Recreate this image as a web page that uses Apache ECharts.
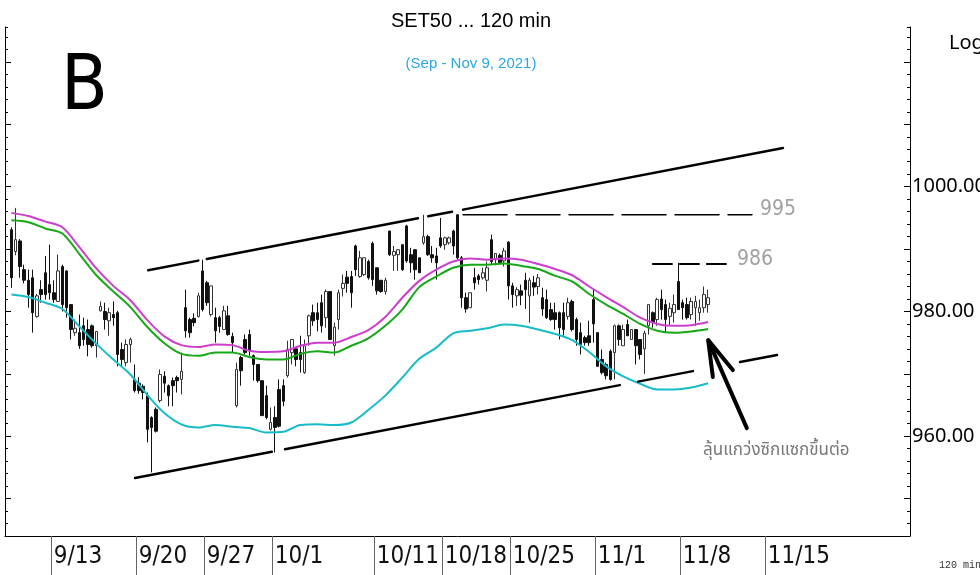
<!DOCTYPE html>
<html>
<head>
<meta charset="utf-8">
<title>SET50 ... 120 min</title>
<script src="https://cdn.jsdelivr.net/npm/echarts@6/dist/echarts.min.js"></script>
<style>
  html, body { margin: 0; padding: 0; background: #fff; }
  #main { width: 980px; height: 575px; }
</style>
</head>
<body>
<div id="main"></div>
<script>
// trading days on the time axis, each 120 min bar takes one slot
const tradingDays = ['', '9/8', '9/9', '9/10', '9/13', '9/14', '9/15', '9/16', '9/17', '9/20', '9/21', '9/22', '9/23',
  '9/27', '9/28', '9/29', '9/30', '10/1', '10/4', '10/5', '10/6', '10/7', '10/8', '10/11', '10/12', '10/14', '10/15',
  '10/18', '10/19', '10/20', '10/21', '10/25', '10/26', '10/27', '10/28', '10/29', '11/1', '11/2', '11/3', '11/4', '11/5',
  '11/8', '11/9', '11/10', '11/11', '11/12', '11/15', '11/16', '11/17', '11/18', '11/19', '11/22', '11/23', '11/24', '11/25']
const barsPerDay = [1, 2, 4, 4, 4, 4, 4, 4, 4, 4, 4, 4, 4,
  4, 4, 4, 4, 4, 4, 4, 4, 4, 4, 4, 4, 4, 4,
  4, 4, 4, 4, 4, 4, 4, 4, 4, 4, 4, 4, 4, 4,
  4, 4, 4, 4, 4, 4, 4, 4, 4, 4, 4, 4, 4, 4]
const weekLabels = ['9/13', '9/20', '9/27', '10/1', '10/11', '10/18', '10/25', '11/1', '11/8', '11/15']
const slotCount = 213

// 120 min bars from slot 1 (9/8) to slot 165 (11/9)
const opens = [
  993.1, 989.6, 991.3, 986.7, 985.0, 985.4, 979.2, 983.5, 986.2, 984.3,
  983.0, 981.6, 987.2, 986.5, 981.1, 976.6, 976.6, 977.7, 977.1, 977.7,
  974.5, 980.1, 980.0, 978.5, 979.5, 979.8, 973.9, 971.8, 974.7, 969.1,
  968.5, 968.0, 966.5, 963.0, 964.3, 965.7, 969.6, 968.1, 968.9, 969.4,
  969.1, 980.6, 978.7, 978.9, 979.2, 986.5, 984.6, 979.5, 979.0, 979.0,
  977.1, 979.3, 976.0, 964.9, 972.6, 975.5, 976.3, 972.9, 971.5, 968.9,
  966.5, 961.1, 963.0, 967.5, 968.1, 969.7, 973.4, 974.0, 973.4, 970.2,
  976.1, 979.8, 979.8, 981.4, 979.0, 983.2, 974.5, 978.7, 983.7, 985.5,
  985.6, 990.5, 985.6, 985.9, 988.0, 990.9, 987.0, 985.0, 983.2, 992.9,
  989.0, 989.1, 990.7, 993.7, 989.1, 989.9, 988.6, 991.0, 992.0, 989.1,
  988.9, 991.8, 990.7, 991.0, 992.9, 995.5, 988.6, 982.2, 980.6, 985.4,
  985.7, 985.4, 985.0, 991.5, 988.3, 989.0, 988.1, 991.1, 984.1, 982.5,
  983.3, 985.0, 982.5, 984.6, 984.0, 982.2, 981.9, 980.3, 979.8, 979.8,
  979.8, 979.2, 981.6, 978.7, 976.6, 975.8, 976.1, 981.9, 976.6, 972.3,
  971.5, 973.6, 973.4, 977.7, 974.5, 977.9, 975.5, 977.1, 975.5, 974.0,
  977.7, 979.8, 978.7, 982.0, 981.1, 979.2, 979.8, 984.8, 981.4, 981.1,
  979.5, 980.6, 979.8, 980.6, 981.1]
const closes = [
  985.4, 991.5, 987.2, 985.0, 982.7, 979.8, 982.5, 982.7, 982.7, 983.0,
  981.9, 986.5, 981.1, 980.6, 977.1, 977.3, 974.5, 975.5, 974.7, 974.5,
  976.8, 980.8, 978.7, 979.8, 979.0, 973.1, 972.3, 974.7, 975.5, 967.3,
  967.3, 967.0, 961.1, 961.4, 960.8, 969.9, 968.5, 966.5, 968.1, 968.9,
  970.4, 976.9, 976.6, 978.2, 982.5, 980.3, 981.4, 984.1, 976.9, 977.6,
  980.1, 976.3, 975.0, 970.7, 970.5, 973.4, 973.7, 971.5, 968.9, 963.3,
  963.0, 962.2, 961.4, 961.6, 965.6, 973.9, 975.5, 972.3, 972.3, 974.5,
  979.3, 978.5, 978.7, 977.7, 983.2, 975.5, 977.5, 983.0, 984.5, 984.5,
  983.0, 986.7, 988.6, 988.6, 985.4, 985.1, 983.3, 983.2, 985.0, 989.1,
  989.6, 989.9, 986.7, 988.1, 987.8, 986.7, 986.2, 992.0, 989.1, 988.6,
  987.8, 990.5, 991.8, 991.8, 990.5, 988.6, 982.2, 980.4, 983.0, 984.6,
  985.1, 986.2, 987.0, 988.0, 989.3, 987.8, 989.7, 984.1, 982.7, 983.5,
  982.6, 983.5, 985.0, 983.9, 985.4, 980.4, 979.0, 978.7, 978.7, 977.4,
  977.1, 981.4, 977.1, 975.5, 974.7, 975.0, 975.0, 978.0, 971.2, 970.2,
  969.7, 969.1, 977.7, 975.5, 977.1, 976.1, 977.1, 974.5, 973.1, 976.5,
  981.1, 978.2, 981.9, 980.3, 978.7, 980.5, 981.1, 980.3, 980.6, 979.0,
  981.6, 981.6, 980.6, 982.7, 982.2]
const lows = [
  983.8, 989.0, 985.4, 984.5, 980.6, 976.6, 979.0, 981.4, 981.9, 981.9,
  981.4, 981.6, 980.0, 979.0, 975.5, 976.1, 974.0, 974.5, 972.8, 974.2,
  972.6, 980.0, 977.1, 976.1, 977.7, 971.2, 971.2, 971.2, 971.8, 967.0,
  966.8, 965.9, 959.0, 954.2, 960.6, 965.4, 967.0, 964.8, 964.8, 967.0,
  966.7, 975.8, 975.8, 977.6, 979.0, 980.0, 980.9, 979.2, 975.0, 976.6,
  977.1, 976.1, 973.4, 964.6, 968.1, 973.1, 972.9, 968.9, 968.6, 963.3,
  962.7, 960.9, 957.4, 961.4, 964.8, 969.4, 971.5, 971.2, 970.2, 970.0,
  974.5, 977.7, 976.8, 976.6, 977.4, 975.5, 972.9, 977.1, 982.4, 983.0,
  980.6, 985.7, 985.4, 985.7, 985.1, 984.1, 982.7, 983.0, 982.7, 988.9,
  986.5, 986.5, 986.5, 987.8, 986.2, 985.1, 986.2, 990.7, 988.9, 987.8,
  985.1, 990.2, 989.9, 990.7, 989.1, 988.3, 980.6, 979.8, 980.6, 983.5,
  984.3, 985.1, 983.2, 987.5, 987.4, 987.8, 987.2, 981.9, 980.6, 980.9,
  981.0, 980.4, 978.2, 982.5, 982.7, 979.3, 978.8, 978.5, 977.1, 975.5,
  976.1, 978.7, 976.8, 974.5, 973.1, 974.5, 974.5, 975.0, 971.2, 969.9,
  969.1, 968.9, 969.1, 974.5, 974.5, 976.1, 975.5, 971.5, 972.3, 970.0,
  976.3, 977.4, 977.7, 978.7, 976.6, 977.7, 978.2, 980.3, 978.7, 978.7,
  978.7, 977.7, 978.5, 979.8, 979.8]
const highs = [
  993.5, 996.6, 991.6, 987.5, 986.7, 986.7, 982.8, 985.0, 988.9, 990.7,
  985.0, 989.1, 987.5, 986.6, 981.1, 978.7, 979.5, 979.0, 978.7, 977.9,
  976.8, 981.6, 981.4, 980.6, 981.6, 980.1, 975.0, 975.5, 975.8, 971.5,
  969.5, 968.3, 967.0, 963.2, 964.6, 970.7, 970.4, 968.3, 969.4, 969.7,
  973.4, 983.5, 979.0, 979.7, 983.0, 988.3, 984.9, 984.1, 980.6, 979.3,
  980.9, 980.9, 976.6, 971.8, 972.9, 976.3, 977.1, 973.1, 971.5, 968.9,
  968.1, 964.6, 964.8, 969.1, 969.1, 975.3, 975.5, 974.3, 976.1, 975.5,
  979.5, 981.1, 981.4, 982.7, 983.5, 983.2, 978.2, 983.5, 985.9, 986.5,
  986.5, 990.7, 989.7, 988.6, 988.3, 991.2, 987.0, 985.0, 985.4, 992.9,
  990.5, 990.0, 990.7, 993.9, 990.2, 989.9, 988.6, 995.5, 992.3, 990.5,
  990.2, 995.0, 992.0, 992.0, 993.1, 995.5, 988.9, 983.0, 983.0, 987.0,
  986.0, 987.0, 988.0, 992.3, 989.3, 989.3, 990.2, 991.3, 984.6, 983.9,
  984.3, 986.2, 985.4, 985.7, 986.0, 983.8, 983.5, 981.4, 981.4, 980.0,
  981.4, 982.2, 981.9, 979.0, 978.2, 976.1, 978.5, 983.5, 976.6, 973.9,
  971.8, 973.9, 977.9, 977.9, 977.9, 978.7, 977.1, 977.1, 975.5, 976.9,
  981.1, 980.0, 982.2, 983.5, 981.9, 981.4, 982.7, 987.8, 981.9, 982.2,
  982.2, 982.5, 981.9, 984.0, 983.5]

// the three average lines, read once a day (slot index)
const avgSlots = [1, 5, 9, 13, 17, 21, 25, 29, 33, 37, 41, 45, 49, 53, 57, 61, 65, 69, 73, 77, 81,
  85, 89, 93, 97, 101, 105, 109, 113, 117, 121, 125, 129, 133, 137, 141, 145, 149, 153, 157, 161, 165]
const avgPurple = [995.8, 995.3, 994.4, 993.5, 990.3, 986.9, 984.1, 981.8, 978.6, 976.0, 974.6, 974.3, 974.7, 974.6,
  973.7, 973.5, 973.6, 974.5, 975.0, 975.0, 975.9, 977.0, 979.1, 982.2, 984.9, 986.7, 988.0, 988.5,
  988.3, 988.5, 988.3, 987.6, 986.8, 985.8, 984.0, 982.3, 980.7, 979.0, 978.0, 977.7, 977.8, 978.3]
const avgGreen = [994.6, 994.3, 993.3, 992.5, 989.2, 985.8, 983.2, 980.7, 977.5, 974.9, 973.2, 972.9, 973.4, 973.4,
  972.7, 972.3, 972.3, 973.2, 973.6, 973.4, 974.5, 975.7, 977.7, 980.3, 983.9, 985.6, 987.0, 987.5,
  987.5, 987.7, 987.3, 986.8, 985.7, 984.8, 982.8, 981.1, 979.6, 978.0, 976.9, 976.6, 976.8, 977.2]
const avgCyan = [982.7, 982.3, 981.4, 980.4, 977.6, 974.8, 972.3, 969.9, 966.6, 963.7, 961.9, 961.4, 961.8, 961.5,
  961.3, 960.6, 960.7, 961.8, 961.9, 961.8, 962.2, 964.2, 966.5, 969.4, 972.4, 974.2, 976.5, 976.9,
  977.3, 977.9, 977.7, 977.1, 976.4, 975.4, 973.5, 971.2, 969.6, 968.4, 967.5, 967.5, 967.8, 968.5]

// hand drawn channel, pieces of [slot, value]
const channelTop = [
  [[33.2, 986.6], [45.0, 988.15]],
  [[47.0, 988.41], [96.7, 994.93]],
  [[99.1, 995.25], [104.7, 995.98]],
  [[107.3, 996.32], [182.6, 1006.2]]
]
const channelBottom = [
  [[30.1, 953.3], [62.3, 957.5]],
  [[65.4, 957.9], [144.2, 968.19]],
  [[148.5, 968.75], [161.4, 970.43]],
  [[172.5, 971.88], [181.2, 973.02]]
]
const resist995 = [[107.3, 995.5], [175.3, 995.5]]
const resist986 = [[152.0, 987.6], [169.4, 987.6]]
const arrowShaft = [[174.1, 961.3], [165.0, 975.4]]
const arrowHead = [[166.1, 969.5], [165.0, 975.4], [170.8, 970.6]]
const notes = [
  { name: '995', value: [177.2, 996.3] },
  { name: '986', value: [171.8, 988.25] },
  { name: 'ลุ้นแกว่งซิกแซกขึ้นต่อ', value: [163.8, 957.5] }
]

const yMajorTicks = [950, 960, 970, 980, 990, 1000, 1010, 1020]
const yLabels = [960, 980, 1000]

// build the slots
const categories = []
tradingDays.forEach((d, k) => {
  for (let b = 0; b < barsPerDay[k]; b++) categories.push(d)
})
categories.length = slotCount

const labelSlots = new Set(weekLabels.map(d => categories.indexOf(d)))
const showWeek = (i) => labelSlots.has(i)
// week separators sit on the left edge of the first bar of the week
const weekEdges = [...labelSlots].map(i => i - 0.5)

const candleData = ['-'].concat(opens.map((o, k) => [o, closes[k], lows[k], highs[k]]))

const narrowFont = "'Liberation Sans Narrow', 'Arial Narrow', 'DejaVu Sans Condensed', sans-serif"
const yMin = 944
const yMax = 1025.6

const avgLine = (values, color) => ({
  type: 'line',
  xAxisIndex: 1,
  data: avgSlots.map((s, k) => [s, values[k]]),
  symbol: 'none',
  smooth: 0.3,
  silent: true,
  z: 3,
  lineStyle: { color: color, width: 2 }
})

const drawn = (points, width, type) => ({
  type: 'line',
  xAxisIndex: 1,
  data: points,
  symbol: 'none',
  silent: true,
  z: 4,
  lineStyle: { color: '#000', width: width, type: type || 'solid', cap: 'round' }
})

const yAxisBase = (position, major) => ({
  type: 'value',
  position: position,
  min: yMin,
  max: yMax,
  interval: major ? undefined : 2,
  axisLine: { show: major, onZero: false, lineStyle: { color: '#000' } },
  axisTick: major
    ? { show: true, inside: true, length: 6, customValues: yMajorTicks, lineStyle: { color: '#000' } }
    : { show: true, inside: true, length: 3, lineStyle: { color: '#000' } },
  axisLabel: { show: false },
  splitLine: { show: false }
})

const rightAxis = yAxisBase('right', true)
rightAxis.axisLabel = {
  show: true,
  customValues: yLabels,
  formatter: v => v.toFixed(2),
  margin: 2,
  fontSize: 20,
  color: '#000',
  fontFamily: "'Noto Sans', 'Open Sans', sans-serif"
}

const myChart = echarts.init(document.getElementById('main'))

const option = {
  animation: false,
  backgroundColor: '#fff',
  textStyle: { fontFamily: "'Liberation Sans', Arial, sans-serif" },
  title: [
    {
      text: 'SET50 ... 120 min',
      left: 466,
      top: 6,
      textAlign: 'center',
      textStyle: { fontSize: 20, fontWeight: 'normal', color: '#000', fontFamily: "'Liberation Sans', Arial, sans-serif" }
    },
    {
      text: '(Sep - Nov 9, 2021)',
      left: 466,
      top: 51,
      textAlign: 'center',
      textStyle: { fontSize: 15, fontWeight: 'normal', color: '#2aa8e2', fontFamily: "'Liberation Sans', Arial, sans-serif" }
    },
    {
      text: 'B',
      left: 56,
      top: 46,
      textStyle: { fontSize: 76, fontWeight: 'normal', color: '#000', fontFamily: narrowFont }
    },
    {
      text: 'Log',
      left: 944,
      top: 28,
      textStyle: { fontSize: 20, fontWeight: 'normal', color: '#000', fontFamily: "'Noto Sans', sans-serif" }
    },
    {
      text: '120 min',
      left: 934,
      top: 555,
      textStyle: { fontSize: 10, fontWeight: 'normal', color: '#333', fontFamily: "'Liberation Mono', monospace" }
    }
  ],
  grid: { left: 5, right: 70, top: 27, bottom: 39, outerBoundsMode: 'none', containLabel: false },
  xAxis: [
    {
      type: 'category',
      data: categories,
      boundaryGap: true,
      axisLine: { onZero: false, lineStyle: { color: '#000', width: 1 } },
      axisTick: { show: false },
      axisLabel: {
        interval: showWeek,
        align: 'left',
        margin: 9,
        fontSize: 24,
        color: '#111',
        fontFamily: narrowFont
      },
      splitLine: { show: false }
    },
    {
      type: 'value',
      position: 'bottom',
      min: -0.5,
      max: slotCount - 0.5,
      axisLine: { show: false, onZero: false },
      axisTick: { show: true, customValues: weekEdges, length: 39, lineStyle: { color: '#666', width: 1 } },
      axisLabel: { show: false },
      splitLine: { show: false }
    }
  ],
  yAxis: [
    rightAxis,
    yAxisBase('right', false),
    yAxisBase('left', true),
    yAxisBase('left', false)
  ],
  series: [
    {
      type: 'candlestick',
      data: candleData,
      barWidth: 3,
      silent: true,
      z: 2,
      itemStyle: {
        color: '#fff',
        color0: '#111',
        borderColor: '#333',
        borderColor0: '#111',
        borderWidth: 1
      }
    },
    avgLine(avgPurple, '#cc3fcc'),
    avgLine(avgGreen, '#16a816'),
    avgLine(avgCyan, '#18bcc8'),
    ...channelTop.map(p => drawn(p, 2.5)),
    ...channelBottom.map(p => drawn(p, 2.5)),
    drawn(resist995, 1.5, [44, 9]),
    drawn(resist986, 2, [19, 8]),
    drawn(arrowShaft, 4),
    drawn(arrowHead, 4),
    {
      type: 'scatter',
      xAxisIndex: 1,
      symbolSize: 0,
      silent: true,
      z: 6,
      data: notes,
      label: {
        show: true,
        position: 'right',
        distance: 0,
        formatter: '{b}',
        color: '#8a8a8a',
        fontSize: 21,
        fontFamily: narrowFont
      },
      labelLayout: { hideOverlap: false }
    }
  ]
}

// the Thai note is smaller and darker
option.series[option.series.length - 1].data[2].label = {
  color: '#555',
  fontSize: 17,
  fontFamily: "'Noto Sans Thai', 'Loma', 'Garuda', 'Noto Sans', sans-serif"
}

myChart.setOption(option)
</script>
</body>
</html>
